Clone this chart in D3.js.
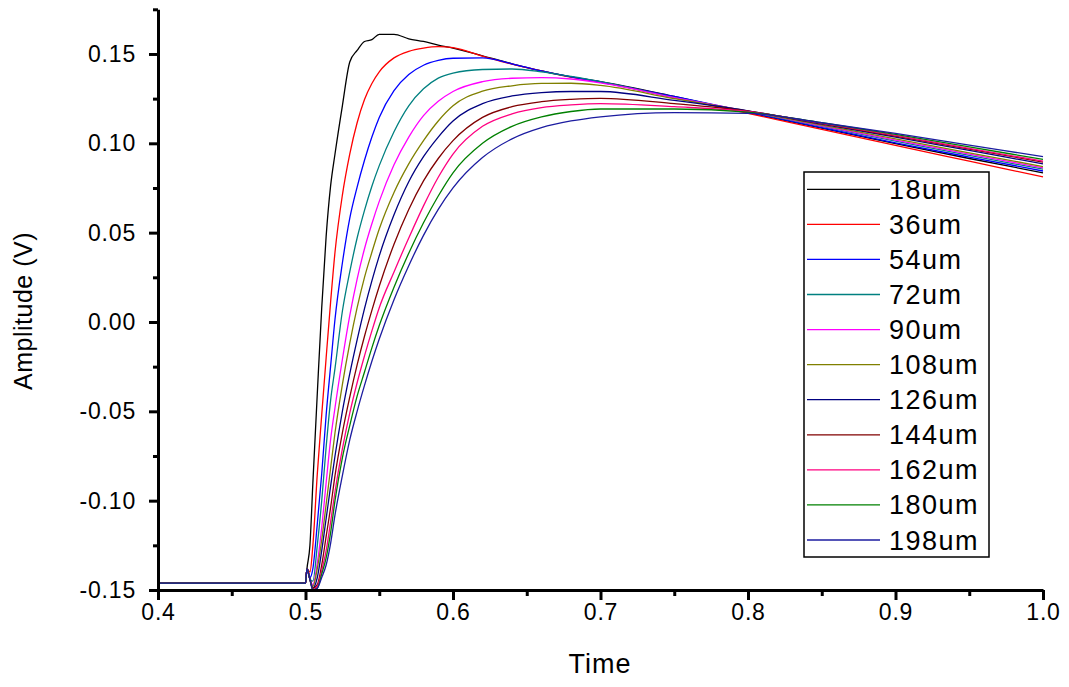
<!DOCTYPE html>
<html>
<head>
<meta charset="utf-8">
<script src="https://cdn.jsdelivr.net/npm/d3@7"></script>
<style>
  html, body { margin: 0; padding: 0; background: #fff; }
  svg { display: block; }
  text { font-family: Arial, "Liberation Sans", sans-serif; fill: #000; }
</style>
</head>
<body>
<svg id="chart" width="1069" height="687"></svg>
<script>
// ---- data ----
const time = [0.40, 0.45, 0.50, 0.501, 0.503, 0.505, 0.508, 0.511, 0.514, 0.517, 0.520, 0.525, 0.530, 0.535, 0.540, 0.545, 0.550, 0.560, 0.570, 0.580, 0.590, 0.600, 0.620, 0.640, 0.660, 0.680, 0.700, 0.750, 0.800, 0.850, 0.900, 0.950, 1.000];

const seriesNames = ["18um", "36um", "54um", "72um", "90um", "108um", "126um", "144um", "162um", "180um", "198um"];
const seriesColors = ["#000000", "#ff0000", "#0000ff", "#008080", "#ff00ff", "#808000", "#000080", "#800000", "#ff0080", "#008000", "#1c1ca0"];

const v18  = [-0.1462,-0.1462,-0.1462,-0.138,-0.125,-0.09,-0.04,0.008,0.048,0.076,0.094,0.121,0.1455,0.152,0.157,0.158,0.161,0.161,0.1585,0.157,0.155,0.1533,0.149,0.1445,0.1405,0.1372,0.1345,0.1262,0.1172,0.1085,0.0998,0.0915,0.0835];
const v36  = [-0.1462,-0.1462,-0.1462,-0.138,-0.140,-0.125,-0.085,-0.052,-0.020,0.011,0.039,0.071,0.094,0.1115,0.1245,0.1335,0.140,0.1478,0.1515,0.1533,0.1541,0.1535,0.1488,0.1443,0.1405,0.137,0.1343,0.1258,0.1168,0.1078,0.0988,0.0900,0.0812];
const v54  = [-0.1462,-0.1462,-0.1462,-0.138,-0.143,-0.138,-0.113,-0.085,-0.052,-0.025,0.0015,0.033,0.058,0.0755,0.0905,0.1035,0.1145,0.1295,0.1385,0.1437,0.1464,0.1476,0.1478,0.1445,0.1405,0.1372,0.1343,0.1262,0.1175,0.1088,0.1003,0.0923,0.0845];
const v72  = [-0.1462,-0.1462,-0.1462,-0.138,-0.144,-0.145,-0.125,-0.100,-0.070,-0.044,-0.026,0.006,0.028,0.047,0.0625,0.076,0.0875,0.1065,0.121,0.1305,0.1365,0.1393,0.1413,0.1416,0.140,0.1374,0.1345,0.1255,0.1178,0.1095,0.1012,0.0932,0.0855];
const v90  = [-0.1462,-0.1462,-0.1462,-0.138,-0.144,-0.147,-0.135,-0.115,-0.09,-0.066,-0.048,-0.021,0.0035,0.024,0.041,0.055,0.0675,0.088,0.1035,0.1155,0.1235,0.129,0.1345,0.1364,0.1368,0.136,0.1338,0.1256,0.1180,0.1098,0.1018,0.0940,0.0862];
const v108 = [-0.1462,-0.1462,-0.1462,-0.138,-0.144,-0.148,-0.138,-0.122,-0.102,-0.082,-0.062,-0.035,-0.012,0.008,0.025,0.039,0.052,0.0725,0.0885,0.1015,0.1125,0.121,0.1292,0.1322,0.1335,0.1336,0.1324,0.1250,0.1180,0.1102,0.1025,0.0947,0.0870];
const v126 = [-0.1462,-0.1462,-0.1462,-0.138,-0.144,-0.149,-0.143,-0.128,-0.110,-0.092,-0.075,-0.050,-0.029,-0.010,0.0075,0.023,0.037,0.060,0.0785,0.0925,0.1035,0.1125,0.1222,0.1265,0.1284,0.129,0.129,0.1240,0.1182,0.1108,0.1035,0.0960,0.0885];
const v144 = [-0.1462,-0.1462,-0.1462,-0.138,-0.144,-0.149,-0.147,-0.136,-0.120,-0.104,-0.086,-0.062,-0.042,-0.024,-0.008,0.0065,0.020,0.0435,0.063,0.079,0.0915,0.1015,0.1145,0.1205,0.1233,0.1246,0.1252,0.1222,0.1180,0.1110,0.1040,0.0968,0.0895];
const v162 = [-0.1462,-0.1462,-0.1462,-0.138,-0.144,-0.150,-0.148,-0.139,-0.128,-0.112,-0.095,-0.071,-0.051,-0.034,-0.019,-0.005,0.008,0.028,0.047,0.065,0.081,0.094,0.1095,0.1165,0.12,0.1215,0.1222,0.1205,0.1178,0.1112,0.1045,0.0972,0.0900];
const v180 = [-0.1462,-0.1462,-0.1462,-0.138,-0.144,-0.150,-0.149,-0.141,-0.132,-0.118,-0.100,-0.076,-0.058,-0.0415,-0.028,-0.0145,-0.002,0.0195,0.0385,0.0555,0.0705,0.0835,0.1,0.1095,0.1148,0.1178,0.1192,0.1192,0.1175,0.1115,0.1050,0.0980,0.0910];
const v198 = [-0.1462,-0.1462,-0.1462,-0.138,-0.144,-0.150,-0.149,-0.143,-0.136,-0.124,-0.108,-0.086,-0.066,-0.050,-0.0355,-0.022,-0.0095,0.0125,0.0315,0.0485,0.063,0.075,0.092,0.1025,0.1088,0.1125,0.1148,0.1172,0.1168,0.1115,0.1055,0.0990,0.0925];

const seriesValues = [v18, v36, v54, v72, v90, v108, v126, v144, v162, v180, v198];

const xMajorTicks = [0.4, 0.5, 0.6, 0.7, 0.8, 0.9, 1.0];
const xMinorTicks = [0.45, 0.55, 0.65, 0.75, 0.85, 0.95];
const yMajorTicks = [-0.15, -0.10, -0.05, 0.00, 0.05, 0.10, 0.15];
const yMinorTicks = [-0.125, -0.075, -0.025, 0.025, 0.075, 0.125, 0.175];

// ---- drawing ----
const svg = d3.select("#chart");
const x = d3.scaleLinear().domain([0.4, 1.0]).range([158, 1043]);
const y = d3.scaleLinear().domain([-0.15, 0.175]).range([590, 9.3]);

// curves
const line = d3.line()
  .x((d) => x(d[0]))
  .y((d) => y(d[1]))
  .curve(d3.curveMonotoneX);

const plot = svg.append("g");
seriesValues.forEach((vals, i) => {
  const pts = time.map((t, j) => [t, vals[j]]);
  plot.append("path")
    .attr("d", line(pts))
    .attr("fill", "none")
    .attr("stroke", seriesColors[i])
    .attr("stroke-width", 1.3)
    .attr("stroke-linejoin", "round");
});

// axes
const axisFont = "23px";
const yAxis = svg.append("g").attr("transform", "translate(158,0)")
  .call(d3.axisLeft(y).tickValues(yMajorTicks).tickSize(9).tickSizeOuter(0).tickPadding(13)
    .tickFormat((d) => d.toFixed(2)));
yAxis.select(".domain").attr("stroke-width", 3);
yAxis.selectAll(".tick line").attr("stroke-width", 3);
yAxis.selectAll("text").style("font-size", axisFont).style("letter-spacing", "0.8px");

const yMinor = svg.append("g").attr("transform", "translate(158,0)")
  .call(d3.axisLeft(y).tickValues(yMinorTicks).tickSize(5).tickSizeOuter(0).tickFormat(""));
yMinor.select(".domain").remove();
yMinor.selectAll(".tick line").attr("stroke-width", 3);

const xAxis = svg.append("g").attr("transform", "translate(0,590)")
  .call(d3.axisBottom(x).tickValues(xMajorTicks).tickSize(10).tickSizeOuter(0).tickPadding(4)
    .tickFormat((d) => d.toFixed(1)));
xAxis.select(".domain").attr("stroke-width", 3);
xAxis.selectAll(".tick line").attr("stroke-width", 3);
xAxis.selectAll("text").style("font-size", axisFont).style("letter-spacing", "0.8px");

const xMinor = svg.append("g").attr("transform", "translate(0,590)")
  .call(d3.axisBottom(x).tickValues(xMinorTicks).tickSize(6).tickSizeOuter(0).tickFormat(""));
xMinor.select(".domain").remove();
xMinor.selectAll(".tick line").attr("stroke-width", 3);

// axis titles
svg.append("text")
  .attr("x", 600).attr("y", 673)
  .attr("text-anchor", "middle")
  .style("font-size", "27px").style("letter-spacing", "1px")
  .text("Time");

svg.append("text")
  .attr("transform", "translate(32,311) rotate(-90)")
  .attr("text-anchor", "middle")
  .style("font-size", "25px").style("letter-spacing", "0.5px")
  .text("Amplitude (V)");

// legend
const legend = svg.append("g");
legend.append("rect")
  .attr("x", 804).attr("y", 172).attr("width", 185).attr("height", 385)
  .attr("fill", "#fff").attr("stroke", "#000").attr("stroke-width", 1.5);
seriesNames.forEach((name, i) => {
  const ly = 189.3 + i * 35.07;
  legend.append("line")
    .attr("x1", 807).attr("x2", 880).attr("y1", ly).attr("y2", ly)
    .attr("stroke", seriesColors[i]).attr("stroke-width", 1.3);
  legend.append("text")
    .attr("x", 889).attr("y", ly + 9.5)
    .style("font-size", "27px").style("letter-spacing", "1.5px")
    .text(name);
});
</script>
</body>
</html>
